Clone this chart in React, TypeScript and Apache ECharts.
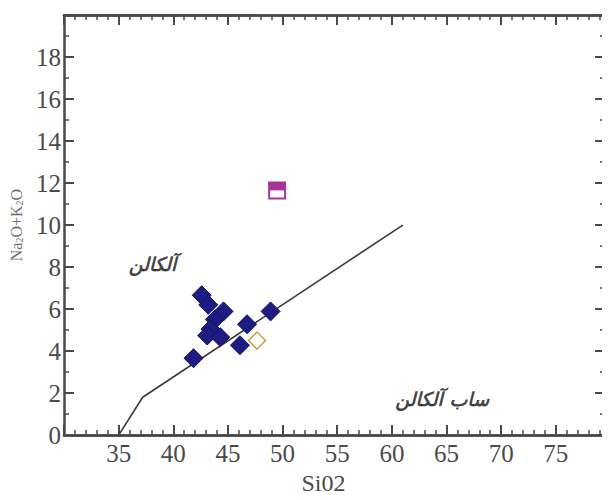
import React, { useEffect, useRef } from "react";
import * as echarts from "echarts";

// Boundary line between alkaline and sub-alkaline fields
const boundaryLine: [number, number][] = [
  [35, 0],
  [37.2, 1.8],
  [61, 10],
];

// Filled blue diamonds (SiO2, Na2O+K2O)
const siO2Blue = [42.6, 43.2, 44.6, 43.8, 43.4, 43.1, 44.3, 46.75, 46.1, 48.9, 41.85];
const alkBlue = [6.66, 6.2, 5.89, 5.5, 5.05, 4.74, 4.66, 5.28, 4.28, 5.89, 3.66];

// Open diamond
const siO2Open = [47.66];
const alkOpen = [4.5];

// Half-filled magenta square
const siO2Square = [49.5];
const alkSquare = [11.65];

// Field labels
const fieldLabels = ["آلکالن", "ساب آلکالن"];
const fieldX = [38.1, 64.6];
const fieldY = [8.15, 1.7];

// Ticks
const xMin = 30;
const xMax = 79.5;
const xLabels = [35, 40, 45, 50, 55, 60, 65, 70, 75];
const yLabels = [0, 2, 4, 6, 8, 10, 12, 14, 16, 18];

const AX = "#4a4a4a";
const SERIF = "'Liberation Serif', 'DejaVu Serif', serif";

export default function App() {
  const ref = useRef<HTMLDivElement>(null);
  useEffect(() => {
    if (!ref.current) return;
    const chart = echarts.init(ref.current, undefined, { renderer: "svg" });
    const lineStyle = { color: AX, width: 2.5 };
    const xBase = {
      type: "value" as const,
      min: xMin,
      max: xMax,
      splitLine: { show: false },
      axisLine: { show: true, onZero: false, lineStyle },
    };
    const blueData = siO2Blue.map((x, i) => [x, alkBlue[i]]);
    const openData = siO2Open.map((x, i) => [x, alkOpen[i]]);
    const sqData = siO2Square.map((x, i) => [x, alkSquare[i]]);
    const labelData = fieldLabels.map((t, i) => ({ value: [fieldX[i], fieldY[i]], name: t }));

    chart.setOption({
      animation: false,
      backgroundColor: "#ffffff",
      grid: { left: 64, right: 5, top: 15, bottom: 50, containLabel: false },
      xAxis: [
        {
          ...xBase,
          position: "bottom",
          interval: 5,
          axisTick: { show: true, inside: true, length: 10, lineStyle: { color: AX, width: 2 } },
          axisLabel: {
            show: true,
            margin: 6,
            color: "#4a4a4a",
            fontFamily: SERIF,
            fontSize: 25,
            formatter: (v: number) => (xLabels.indexOf(v) >= 0 ? String(v) : ""),
          },
          name: "Si02",
          nameLocation: "middle",
          nameGap: 27,
          nameTextStyle: { color: "#4a4a4a", fontFamily: SERIF, fontSize: 24, padding: [0, 22, 0, 0] },
        },
        {
          ...xBase,
          position: "bottom",
          interval: 1,
          axisTick: { show: true, inside: true, length: 5, lineStyle: { color: AX, width: 1.5 } },
          axisLabel: { show: false },
        },
        {
          ...xBase,
          position: "top",
          interval: 5,
          axisTick: { show: true, inside: true, length: 10, lineStyle: { color: AX, width: 2 } },
          axisLabel: { show: false },
        },
        {
          ...xBase,
          position: "top",
          interval: 1,
          axisTick: { show: true, inside: true, length: 5, lineStyle: { color: AX, width: 1.5 } },
          axisLabel: { show: false },
        },
      ],
      yAxis: [
        {
          type: "value",
          min: 0,
          max: 20,
          interval: 2,
          position: "left",
          splitLine: { show: false },
          axisLine: { show: true, onZero: false, lineStyle },
          axisTick: { show: true, inside: true, length: 10, lineStyle: { color: AX, width: 2 } },
          minorTick: { show: true, splitNumber: 2, length: 5, lineStyle: { color: AX, width: 1.5 } },
          axisLabel: {
            show: true,
            margin: 3,
            color: "#4a4a4a",
            fontFamily: SERIF,
            fontSize: 25,
            formatter: (v: number) => (yLabels.indexOf(v) >= 0 ? String(v) : ""),
          },
          name: "{a|Na}{s|2}{a|O+K}{s|2}{a|O}",
          nameLocation: "middle",
          nameGap: 40,
          nameTextStyle: {
            rich: {
              a: { fontFamily: SERIF, fontSize: 16, color: "#707070" },
              s: { fontFamily: SERIF, fontSize: 10, color: "#707070", verticalAlign: "bottom", padding: [6, 0, 0, 0] },
            },
          },
        },
        {
          type: "value",
          min: 0,
          max: 20,
          interval: 2,
          position: "right",
          splitLine: { show: false },
          axisLine: { show: true, onZero: false, lineStyle },
          axisTick: { show: true, inside: true, length: 10, lineStyle: { color: AX, width: 2 } },
          minorTick: { show: true, splitNumber: 2, length: 5, lineStyle: { color: AX, width: 1.5 } },
          axisLabel: { show: false },
        },
      ],
      series: [
        {
          type: "line",
          xAxisIndex: 0,
          yAxisIndex: 0,
          data: boundaryLine,
          symbol: "none",
          lineStyle: { color: "#3a3a3a", width: 1.6 },
          z: 2,
        },
        {
          type: "scatter",
          xAxisIndex: 0,
          yAxisIndex: 0,
          data: blueData,
          symbol: "diamond",
          symbolSize: 19,
          itemStyle: { color: "#1c1c82", borderColor: "#121260", borderWidth: 1, opacity: 1 },
          z: 3,
        },
        {
          type: "scatter",
          xAxisIndex: 0,
          yAxisIndex: 0,
          data: openData,
          symbol: "diamond",
          symbolSize: 17,
          itemStyle: { color: "#ffffff", borderColor: "#c9a24a", borderWidth: 1.5, opacity: 1 },
          z: 3,
        },
        {
          type: "scatter",
          xAxisIndex: 0,
          yAxisIndex: 0,
          data: sqData,
          symbol: "rect",
          symbolSize: 16,
          itemStyle: { color: "#ffffff", borderColor: "#a8349a", borderWidth: 2, opacity: 1 },
          z: 3,
        },
        {
          type: "scatter",
          xAxisIndex: 0,
          yAxisIndex: 0,
          data: sqData,
          symbol: "rect",
          symbolSize: [16, 8],
          symbolOffset: [0, -4],
          itemStyle: { color: "#a8349a", opacity: 1 },
          z: 4,
        },
        {
          type: "scatter",
          xAxisIndex: 0,
          yAxisIndex: 0,
          data: labelData,
          symbolSize: 0,
          silent: true,
          label: {
            show: true,
            position: "inside",
            formatter: (p: any) => p.name,
            color: "#111111",
            fontFamily: "'DejaVu Sans', sans-serif",
            fontWeight: "bold",
            fontStyle: "italic",
            fontSize: 19,
          },
          z: 5,
        },
      ],
    });
    return () => chart.dispose();
  }, []);
  return <div ref={ref} style={{ width: 610, height: 500, margin: -8 }} />;
}
